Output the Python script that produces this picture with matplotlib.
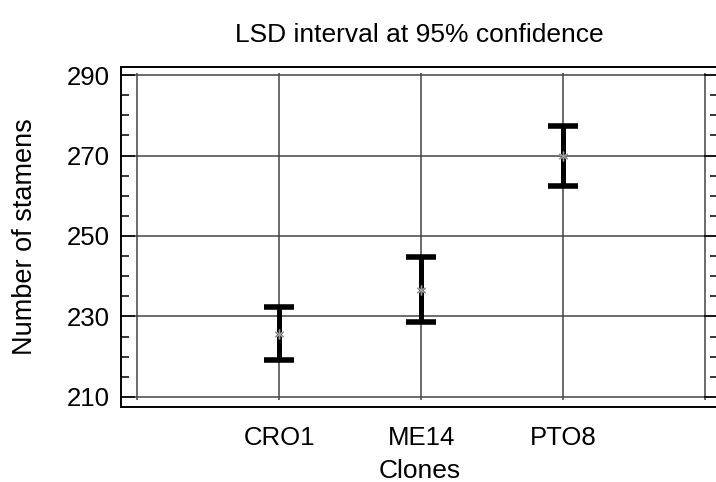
import matplotlib
matplotlib.use("Agg")
import matplotlib.pyplot as plt
from matplotlib.ticker import MultipleLocator

plt.rcParams['font.family'] = ['Liberation Sans', 'DejaVu Sans']

categories = ["CRO1", "ME14", "PTO8"]
means = [225.7, 236.7, 269.9]
lower = [219.1, 228.7, 262.4]
upper = [232.3, 244.7, 277.3]
yticks = [210, 230, 250, 270, 290]
xgrid = [0, 1, 2, 3, 4]

W, H = 716, 482
fig = plt.figure(figsize=(W / 100, H / 100), dpi=100)
ax = fig.add_axes([121 / W, 1 - 407 / H, (718 - 121) / W, (407 - 67) / H])

xpos = [1, 2, 3]
err_lo = [m - l for m, l in zip(means, lower)]
err_hi = [u - m for m, u in zip(means, upper)]

ax.set_xlim(-0.113, 4.09)
ax.set_ylim(207.5, 292.0)

# grid
ax.set_yticks(yticks)
ax.yaxis.set_minor_locator(MultipleLocator(5))
ax.set_xticks(xgrid)
ax.set_xticklabels([""] + categories + [""])
ax.grid(axis='y', color='#444444', linewidth=1.1, zorder=1)
ax.vlines(xgrid, yticks[0] - 0.8, yticks[-1] + 0.5, color='#444444',
          linewidth=1.1, zorder=1)

ax.errorbar(xpos, means, yerr=[err_lo, err_hi], fmt='none', ecolor='black',
            elinewidth=3.6, capsize=10.5, capthick=4.0, zorder=3)
ax.plot(xpos, means, linestyle='none', marker=(6, 2, 0), markersize=7,
        color='#999999', markeredgewidth=1.0, zorder=4)

for s in ['left', 'top', 'bottom']:
    ax.spines[s].set_linewidth(1.4)
    ax.spines[s].set_color('black')
ax.spines['right'].set_visible(False)

ax.tick_params(axis='y', which='major', direction='in', length=10, width=1.1,
               left=True, right=True, labelsize=18.5, pad=8)
ax.tick_params(axis='y', which='minor', direction='in', length=6, width=1.1,
               left=True, right=True)
ax.tick_params(axis='x', which='major', length=0, labelsize=18.5, pad=14)

ax.set_title("LSD interval at 95% confidence", fontsize=19, pad=18)
ax.set_xlabel("Clones", fontsize=19, labelpad=6.5)
ax.set_ylabel("Number of stamens", fontsize=19.5, labelpad=21)

fig.savefig("out.png", dpi=100)
